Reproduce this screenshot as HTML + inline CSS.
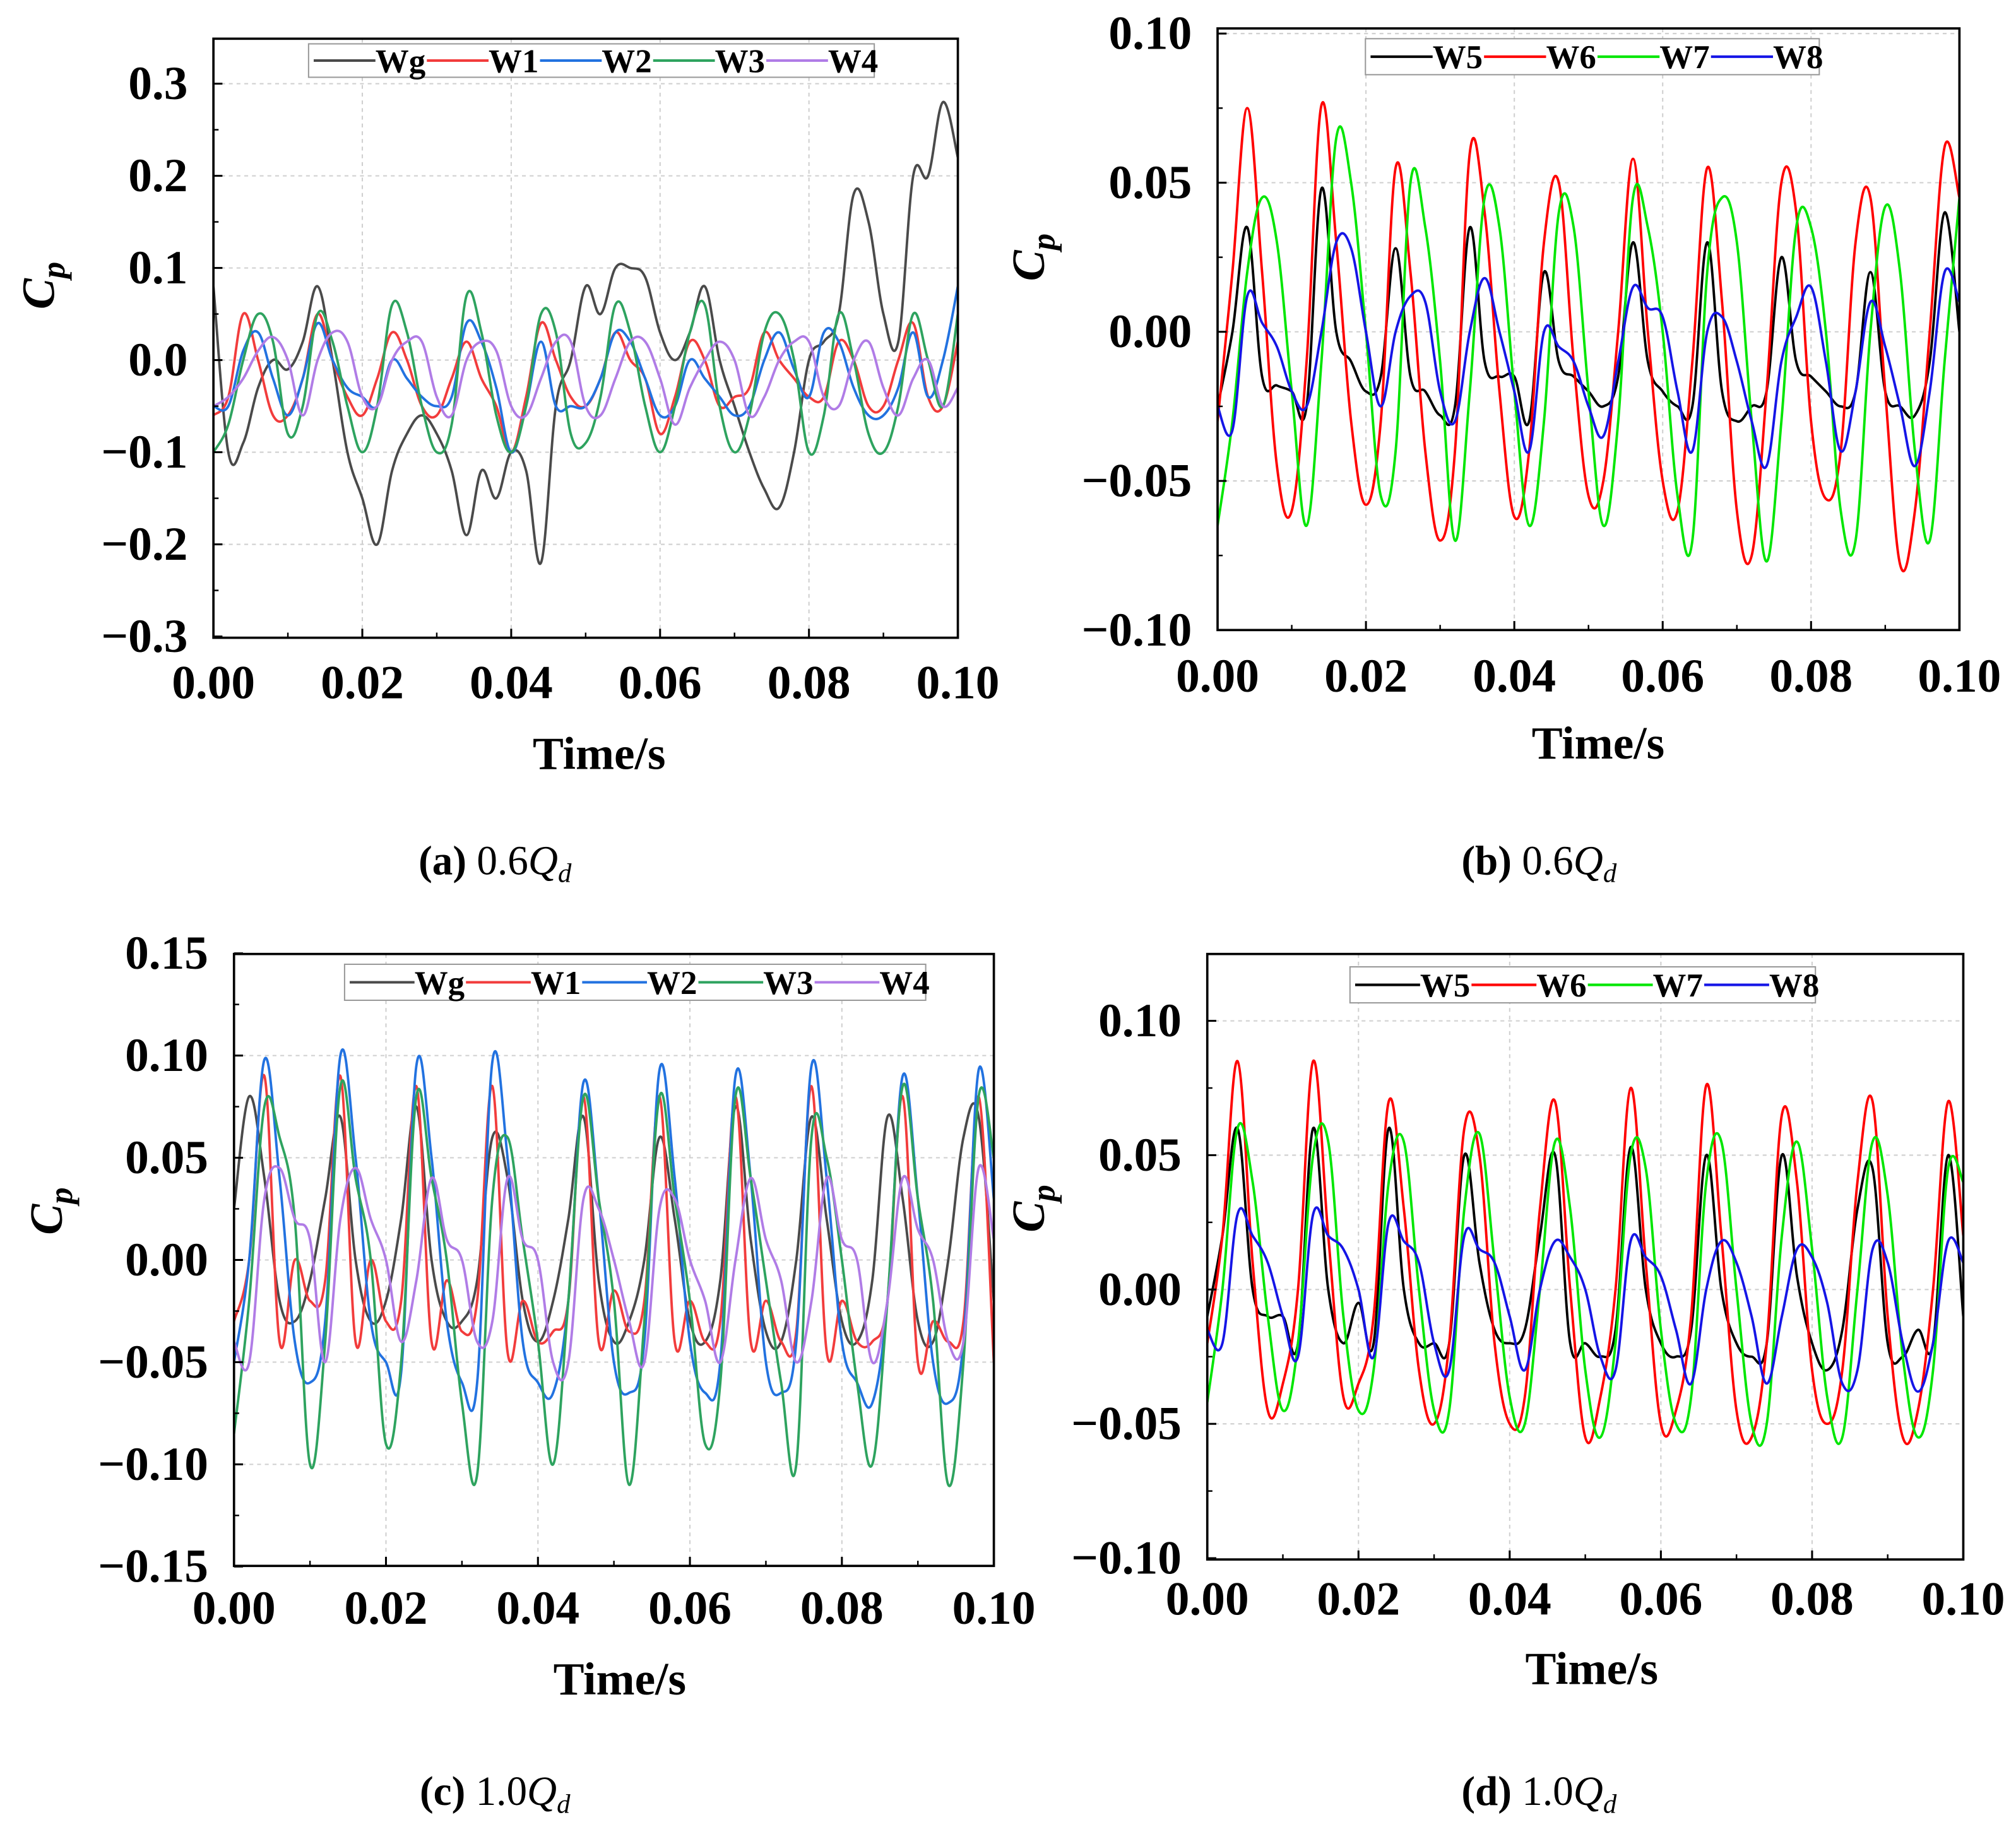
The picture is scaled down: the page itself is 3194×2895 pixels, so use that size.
<!DOCTYPE html>
<html><head><meta charset="utf-8"><style>
html,body{margin:0;padding:0;background:#fff}
svg{display:block}
text{font-family:"Liberation Serif",serif}
.tk{font-weight:bold;font-size:37px}
.tt{font-weight:bold;font-size:36px}
.lg{font-weight:bold;font-size:26px}
.cap{font-size:32px}
</style></head><body>
<svg id="fig" xmlns="http://www.w3.org/2000/svg" width="3194" height="2895" viewBox="0 0 1568 1421"></svg>
<script>
const times=[0,0.002,0.004,0.006,0.008,0.01,0.012,0.014,0.016,0.018,0.02,0.022,0.024,0.026,0.028,0.03,0.032,0.034,0.036,0.038,0.04,0.042,0.044,0.046,0.048,0.05,0.052,0.054,0.056,0.058,0.06,0.062,0.064,0.066,0.068,0.07,0.072,0.074,0.076,0.078,0.08,0.082,0.084,0.086,0.088,0.09,0.092,0.094,0.096,0.098,0.1];
// Panel a
const aWg=[0.08,-0.1,-0.09,-0.03,0.0,-0.01,0.02,0.08,0.0,-0.1,-0.15,-0.2,-0.12,-0.08,-0.06,-0.08,-0.12,-0.19,-0.12,-0.15,-0.1,-0.12,-0.22,-0.05,0.0,0.08,0.05,0.1,0.1,0.09,0.03,0.0,0.03,0.08,0.0,-0.05,-0.1,-0.14,-0.16,-0.1,0.0,0.02,0.05,0.18,0.15,0.05,0.02,0.2,0.2,0.28,0.22];
const aW1=[-0.06,-0.04,0.05,0.0,-0.06,-0.06,-0.02,0.05,0.0,-0.04,-0.06,-0.02,0.03,0.0,-0.05,-0.06,-0.02,0.02,-0.02,-0.05,-0.1,-0.04,0.04,0.0,-0.04,-0.05,-0.02,0.03,0.0,-0.02,-0.08,-0.04,0.02,0.0,-0.05,-0.04,-0.03,0.03,0.0,-0.02,-0.04,-0.04,0.02,0.0,-0.05,-0.05,0.0,0.04,-0.04,-0.05,0.02];
const aW2=[-0.05,-0.05,0.01,0.03,-0.02,-0.06,-0.02,0.04,0.0,-0.03,-0.04,-0.05,0.0,-0.02,-0.04,-0.05,-0.04,0.04,0.02,-0.03,-0.1,-0.05,0.02,-0.05,-0.05,-0.05,-0.02,0.03,0.02,-0.02,-0.06,-0.05,0.0,-0.02,-0.04,-0.06,-0.05,0.0,0.03,-0.01,-0.04,0.03,0.02,-0.03,-0.06,-0.06,-0.03,0.03,-0.04,0.0,0.08];
const aW3=[-0.1,-0.07,0.0,0.05,0.02,-0.08,-0.05,0.05,0.02,-0.05,-0.1,-0.05,0.06,0.03,-0.05,-0.1,-0.07,0.07,0.03,-0.06,-0.1,-0.05,0.05,0.03,-0.08,-0.09,-0.04,0.06,0.03,-0.05,-0.1,-0.05,0.03,0.06,-0.05,-0.1,-0.06,0.03,0.05,0.0,-0.1,-0.06,0.05,0.0,-0.08,-0.1,-0.05,0.05,0.0,-0.05,0.05];
const aW4=[-0.05,-0.04,-0.02,0.01,0.025,0.0,-0.06,0.0,0.03,0.02,-0.04,-0.05,0.0,0.02,0.02,-0.04,-0.06,0.0,0.02,0.01,-0.05,-0.06,-0.02,0.02,0.02,-0.05,-0.06,-0.02,0.02,0.02,-0.02,-0.07,-0.03,0.0,0.02,0.0,-0.06,-0.04,0.0,0.02,0.02,-0.04,-0.05,0.0,0.02,-0.03,-0.06,-0.02,0.0,-0.05,-0.03];
// Panel b
const bW5=[-0.025,0.0,0.035,-0.015,-0.018,-0.02,-0.025,0.048,0.0,-0.01,-0.02,-0.015,0.028,-0.015,-0.02,-0.028,-0.025,0.035,-0.01,-0.015,-0.015,-0.03,0.02,-0.01,-0.015,-0.02,-0.025,-0.015,0.03,-0.01,-0.02,-0.025,-0.025,0.03,-0.02,-0.03,-0.025,-0.02,0.025,-0.01,-0.015,-0.02,-0.025,-0.02,0.02,-0.02,-0.025,-0.028,-0.01,0.04,0.0];
const bW6=[-0.03,0.02,0.075,0.02,-0.045,-0.06,-0.01,0.076,0.03,-0.03,-0.058,-0.03,0.055,0.02,-0.04,-0.07,-0.04,0.06,0.04,-0.02,-0.062,-0.04,0.03,0.05,-0.01,-0.055,-0.05,0.0,0.058,0.0,-0.05,-0.06,-0.01,0.055,0.01,-0.06,-0.075,-0.02,0.05,0.04,-0.03,-0.056,-0.04,0.03,0.045,-0.02,-0.078,-0.06,0.0,0.062,0.045];
const bW7=[-0.065,-0.03,0.02,0.045,0.03,-0.02,-0.065,-0.01,0.065,0.05,0.0,-0.055,-0.04,0.05,0.035,-0.01,-0.07,-0.02,0.045,0.035,-0.02,-0.065,-0.03,0.04,0.035,-0.02,-0.065,-0.03,0.045,0.035,0.0,-0.055,-0.07,0.02,0.045,0.03,-0.03,-0.077,-0.03,0.035,0.035,0.0,-0.06,-0.07,0.0,0.042,0.02,-0.04,-0.07,-0.01,0.045];
const bW8=[-0.025,-0.033,0.012,0.003,-0.005,-0.02,-0.025,0.0,0.03,0.028,0.0,-0.025,0.0,0.012,0.01,-0.02,-0.03,0.0,0.018,0.0,-0.02,-0.04,0.0,-0.005,-0.01,-0.025,-0.035,-0.01,0.015,0.008,0.005,-0.02,-0.04,0.0,0.005,-0.01,-0.03,-0.045,-0.01,0.005,0.015,-0.01,-0.04,-0.02,0.01,-0.005,-0.025,-0.045,-0.02,0.02,0.01];
// Panel c
const cWg=[0.025,0.08,0.04,-0.02,-0.03,-0.01,0.03,0.07,0.0,-0.03,-0.02,0.02,0.075,0.0,-0.03,-0.03,-0.01,0.06,0.04,-0.02,-0.04,-0.02,0.02,0.07,-0.01,-0.04,-0.03,0.0,0.06,0.02,-0.03,-0.04,-0.01,0.075,0.01,-0.035,-0.04,0.0,0.07,0.02,-0.03,-0.04,-0.01,0.07,0.03,-0.03,-0.04,0.0,0.06,0.07,-0.02];
const cW1=[-0.03,0.0,0.09,-0.04,0.0,-0.02,-0.01,0.09,-0.04,0.0,-0.03,-0.02,0.085,-0.04,-0.01,-0.035,-0.02,0.085,-0.045,-0.02,-0.04,-0.035,-0.02,0.08,-0.04,-0.015,-0.035,-0.02,0.08,-0.04,-0.02,-0.04,-0.03,0.08,-0.04,-0.02,-0.04,-0.035,0.085,-0.045,-0.02,-0.04,-0.04,-0.02,0.08,-0.05,-0.03,-0.04,-0.03,0.08,-0.05];
const cW2=[-0.05,0.0,0.098,0.04,-0.04,-0.06,-0.03,0.1,0.05,-0.03,-0.05,-0.055,0.095,0.05,-0.03,-0.06,-0.06,0.097,0.05,-0.04,-0.06,-0.065,-0.02,0.087,0.03,-0.05,-0.065,-0.04,0.093,0.04,-0.04,-0.065,-0.05,0.09,0.04,-0.05,-0.065,-0.04,0.095,0.04,-0.04,-0.06,-0.07,-0.02,0.09,0.03,-0.05,-0.07,-0.04,0.093,0.03];
const cW3=[-0.085,-0.02,0.075,0.06,0.02,-0.1,-0.04,0.085,0.04,0.0,-0.09,-0.05,0.08,0.04,0.0,-0.07,-0.105,0.03,0.06,0.01,-0.04,-0.1,-0.02,0.08,0.03,-0.02,-0.11,-0.03,0.08,0.03,-0.02,-0.09,-0.06,0.08,0.04,-0.01,-0.06,-0.1,0.06,0.05,0.0,-0.06,-0.1,-0.02,0.085,0.03,-0.02,-0.11,-0.05,0.08,0.05];
const cW4=[-0.04,-0.05,0.03,0.045,0.02,0.01,-0.05,0.02,0.045,0.02,0.0,-0.04,-0.01,0.04,0.01,0.0,-0.04,-0.03,0.04,0.01,0.0,-0.05,-0.05,0.03,0.025,0.0,-0.03,-0.05,0.025,0.03,0.0,-0.02,-0.05,0.0,0.04,0.01,-0.01,-0.05,-0.02,0.04,0.01,0.0,-0.05,-0.02,0.04,0.015,0.0,-0.04,-0.04,0.045,0.01];
// Panel d
const dW5=[-0.01,0.02,0.06,0.0,-0.01,-0.01,-0.02,0.06,0.0,-0.02,-0.005,-0.02,0.06,0.0,-0.02,-0.02,-0.02,0.05,0.01,-0.015,-0.02,-0.015,0.02,0.05,-0.02,-0.02,-0.025,-0.015,0.053,0.0,-0.02,-0.025,-0.015,0.05,0.0,-0.02,-0.025,-0.02,0.05,0.005,-0.02,-0.03,-0.015,0.03,0.045,-0.02,-0.025,-0.015,-0.02,0.05,-0.01];
const dW6=[-0.02,0.02,0.085,0.01,-0.045,-0.035,0.0,0.085,0.02,-0.04,-0.035,-0.01,0.07,0.03,-0.03,-0.05,-0.02,0.06,0.05,-0.02,-0.05,-0.04,0.03,0.07,0.0,-0.055,-0.04,0.0,0.075,0.01,-0.05,-0.045,-0.01,0.076,0.02,-0.045,-0.055,-0.02,0.065,0.04,-0.03,-0.05,-0.03,0.04,0.07,-0.01,-0.055,-0.045,0.0,0.07,0.02];
const dW7=[-0.042,0.0,0.06,0.04,-0.01,-0.045,-0.02,0.05,0.055,-0.01,-0.045,-0.03,0.04,0.055,0.0,-0.045,-0.045,0.03,0.058,0.01,-0.04,-0.05,0.0,0.055,0.03,-0.03,-0.055,-0.02,0.05,0.045,-0.015,-0.05,-0.04,0.04,0.055,0.0,-0.05,-0.05,0.02,0.055,0.015,-0.04,-0.055,0.0,0.055,0.035,-0.025,-0.055,-0.03,0.045,0.04];
const dW8=[-0.015,-0.02,0.028,0.02,0.01,-0.01,-0.025,0.028,0.02,0.015,0.0,-0.025,0.025,0.018,0.01,-0.02,-0.03,0.02,0.015,0.01,-0.01,-0.03,0.0,0.018,0.012,0.0,-0.025,-0.03,0.018,0.012,0.005,-0.015,-0.035,0.0,0.018,0.01,-0.01,-0.035,-0.01,0.015,0.012,-0.005,-0.035,-0.03,0.015,0.01,-0.02,-0.038,-0.02,0.018,0.01];
const ticksAB=[-0.3,-0.2,-0.1,0.0,0.1,0.2,0.3];
const ticksB=[-0.10,-0.05,0.00,0.05,0.10];
const ticksC=[-0.15,-0.10,-0.05,0.00,0.05,0.10,0.15];
const ticksX=[0,0.02,0.04,0.06,0.08,0.10];

const NS="http://www.w3.org/2000/svg";
const svg=document.getElementById('fig');
function mk(tag,attrs,parent){const e=document.createElementNS(NS,tag);for(const k in attrs)e.setAttribute(k,attrs[k]);(parent||svg).appendChild(e);return e;}
function fmt(v,d){const s=Math.abs(v).toFixed(d);return (v<-1e-9?'\u2212':'')+s;}
const C1={k:'#4a4a4a',r:'#f23c3c',b:'#2272e0',g:'#2ea35f',p:'#b07ce6'};
const C2={k:'#000000',r:'#ff0000',g:'#00e600',b:'#1515e6'};

function smooth(pts){let d='M'+pts[0][0]+','+pts[0][1];for(let i=0;i<pts.length-1;i++){const p0=pts[i-1]||pts[i],p1=pts[i],p2=pts[i+1],p3=pts[i+2]||p2;const t=0.18;d+=' C'+(p1[0]+(p2[0]-p0[0])*t)+','+(p1[1]+(p2[1]-p0[1])*t)+' '+(p2[0]-(p3[0]-p1[0])*t)+','+(p2[1]-(p3[1]-p1[1])*t)+' '+p2[0]+','+p2[1];}return d;}

function panel(P){
  const g=mk('g',{});
  
  
  const xs=t=>P.x0+(t-0)/(0.1)*(P.x1-P.x0);
  const ys=v=>P.zero-v*P.k;
  P.ticks.forEach(v=>{const y=ys(v);if(y>P.y0+2&&y<P.y1-2){const l=mk('line',{x1:P.x0,x2:P.x1,y1:y,y2:y,stroke:'#cfcfcf','stroke-width':1,'stroke-dasharray':'3,3'},g);}});
  ticksX.forEach(v=>{const x=xs(v);if(x>P.x0+2&&x<P.x1-2){const l=mk('line',{x1:x,x2:x,y1:P.y0,y2:P.y1,stroke:'#cfcfcf','stroke-width':1,'stroke-dasharray':'3,3'},g);}});
  const cp=mk('clipPath',{id:'cp'+P.name},g);mk('rect',{x:P.x0,y:P.y0,width:P.x1-P.x0,height:P.y1-P.y0},cp);
  P.series.forEach(s=>{const pts=times.map((t,i)=>[+xs(t).toFixed(2),+ys(s.v[i]).toFixed(2)]);
    const p=mk('path',{d:smooth(pts),fill:'none',stroke:s.c,'stroke-width':1.9,'clip-path':'url(#cp'+P.name+')'},g);
    
    });
  const fr=mk('rect',{x:P.x0,y:P.y0,width:P.x1-P.x0,height:P.y1-P.y0,fill:'none',stroke:'#000','stroke-width':1.8},g);
  
  P.ticks.forEach((v,i)=>{const y=ys(v);mk('line',{x1:P.x0,x2:P.x0+7,y1:y,y2:y,stroke:'#000','stroke-width':1.5},g);
    if(i<P.ticks.length-1){const ym=ys(v+(P.ticks[1]-P.ticks[0])/2);mk('line',{x1:P.x0,x2:P.x0+4,y1:ym,y2:ym,stroke:'#000','stroke-width':1.2},g);}
    const t=mk('text',{x:P.x0-20,y:y+12,'text-anchor':'end',class:'tk'},g);t.textContent=fmt(v,P.dec);
    });
  ticksX.forEach((v,i)=>{const x=xs(v);mk('line',{x1:x,x2:x,y1:P.y1,y2:P.y1-7,stroke:'#000','stroke-width':1.5},g);
    if(i<ticksX.length-1){const xm=xs(v+0.01);mk('line',{x1:xm,x2:xm,y1:P.y1,y2:P.y1-4,stroke:'#000','stroke-width':1.2},g);}
    const t=mk('text',{x:x,y:P.xly,'text-anchor':'middle',class:'tk'},g);t.textContent=v.toFixed(2);
    });
  const xt=mk('text',{x:P.xt[0],y:P.xt[1],'text-anchor':'middle',class:'tt'},g);xt.textContent='Time/s';
  
  const yt=mk('text',{transform:'translate('+P.yt[0]+','+P.yt[1]+') rotate(-90)','text-anchor':'middle',class:'tt','font-style':'italic'},g);
  
  const t1=mk('tspan',{},yt);t1.textContent='C';const t2=mk('tspan',{dy:8,'font-size':26},yt);t2.textContent='p';
  const L=P.leg;const lb=mk('rect',{x:L[0],y:L[1],width:L[2]-L[0],height:L[3]-L[1],fill:'#fff',stroke:'#999','stroke-width':1},g);
  
  const step=(L[2]-L[0])/P.series.length;const ly=(L[1]+L[3])/2;
  P.series.forEach((s,i)=>{const x=L[0]+4+i*step;
    const ll=mk('line',{x1:x,x2:x+step-40,y1:ly,y2:ly,stroke:s.c,'stroke-width':2},g);
    
    const tx=mk('text',{x:x+step-40,y:ly+9,class:'lg'},g);tx.textContent=s.n;
    });
  const cap=mk('text',{x:P.cap[0],y:P.cap[1],'text-anchor':'middle',class:'cap'},g);
  
  const c1=mk('tspan',{'font-weight':'bold'},cap);c1.textContent=P.capL;
  const c2=mk('tspan',{},cap);c2.textContent=' '+P.capV;
  const c3=mk('tspan',{'font-style':'italic'},cap);c3.textContent='Q';
  const c4=mk('tspan',{'font-style':'italic','font-size':21,dy:6},cap);c4.textContent='d';
}
panel({name:'panel-a',x0:166,x1:745,y0:30,y1:496,zero:280,k:716.7,ticks:ticksAB,dec:1,xly:543,xt:[466,598],yt:[42,222],leg:[240,34,680,60],cap:[385,680],capL:'(a)',capV:'0.6',
  series:[{n:'Wg',v:aWg,c:C1.k},{n:'W1',v:aW1,c:C1.r},{n:'W2',v:aW2,c:C1.b},{n:'W3',v:aW3,c:C1.g},{n:'W4',v:aW4,c:C1.p}]});
panel({name:'panel-b',x0:947,x1:1524,y0:22,y1:490,zero:258,k:2320,ticks:ticksB,dec:2,xly:538,xt:[1243,590],yt:[812,200],leg:[1062,30,1415,58],cap:[1197,680],capL:'(b)',capV:'0.6',
  series:[{n:'W5',v:bW5,c:C2.k},{n:'W6',v:bW6,c:C2.r},{n:'W7',v:bW7,c:C2.g},{n:'W8',v:bW8,c:C2.b}]});
panel({name:'panel-c',x0:182,x1:773,y0:742,y1:1218,zero:980,k:1590,ticks:ticksC,dec:2,xly:1263,xt:[482,1318],yt:[48,942],leg:[268,750,720,778],cap:[385,1404],capL:'(c)',capV:'1.0',
  series:[{n:'Wg',v:cWg,c:C1.k},{n:'W1',v:cW1,c:C1.r},{n:'W2',v:cW2,c:C1.b},{n:'W3',v:cW3,c:C1.g},{n:'W4',v:cW4,c:C1.p}]});
panel({name:'panel-d',x0:939,x1:1527,y0:742,y1:1213,zero:1003,k:2090,ticks:ticksB,dec:2,xly:1256,xt:[1238,1310],yt:[812,940],leg:[1050,752,1412,780],cap:[1197,1404],capL:'(d)',capV:'1.0',
  series:[{n:'W5',v:dW5,c:C2.k},{n:'W6',v:dW6,c:C2.r},{n:'W7',v:dW7,c:C2.g},{n:'W8',v:dW8,c:C2.b}]});
</script>
</body></html>
